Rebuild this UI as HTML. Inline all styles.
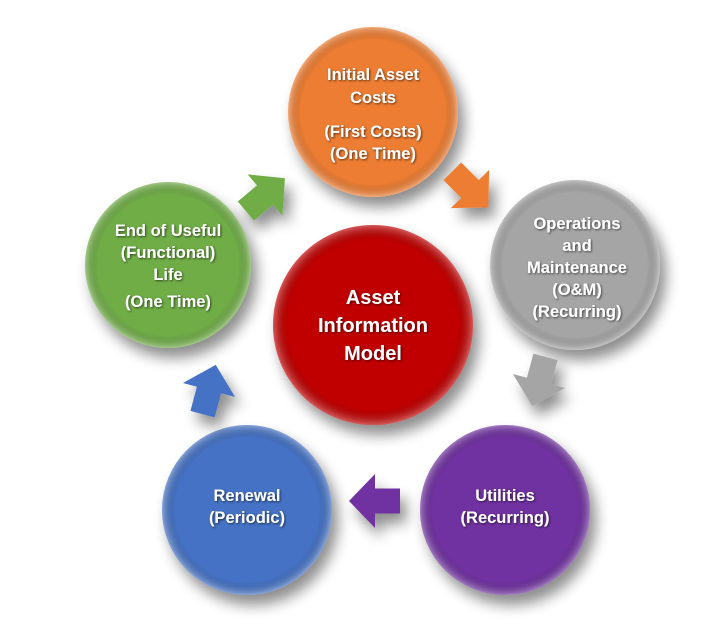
<!DOCTYPE html>
<html><head><style>
html,body{margin:0;padding:0;background:#fff;}
svg text{font-family:"Liberation Sans",sans-serif;font-weight:bold;fill:#fff;text-anchor:middle;}
</style></head><body>
<svg width="724" height="634" viewBox="0 0 724 634" xmlns="http://www.w3.org/2000/svg">
<defs>
<filter id="sh" x="-30%" y="-30%" width="170%" height="170%">
<feGaussianBlur in="SourceAlpha" stdDeviation="7"/><feOffset dx="6" dy="10"/>
<feComponentTransfer><feFuncA type="linear" slope="0.45"/></feComponentTransfer>
<feMerge><feMergeNode/><feMergeNode in="SourceGraphic"/></feMerge></filter>
<filter id="ts"><feGaussianBlur in="SourceAlpha" stdDeviation="1"/><feOffset dx="1" dy="1"/>
<feComponentTransfer><feFuncA type="linear" slope="0.6"/></feComponentTransfer>
<feMerge><feMergeNode/><feMergeNode in="SourceGraphic"/></feMerge></filter>
<radialGradient id="g1" cx="50%" cy="50%" r="50%"><stop offset="85%" stop-color="#000" stop-opacity="0"/><stop offset="100%" stop-color="#fff" stop-opacity="0.35"/></radialGradient>
<polygon id="arr" points="-25,-12.5 0,-12.5 0,-27 26,0 0,27 0,12.5 -25,12.5"/>
</defs>
<g filter="url(#sh)">
<circle cx="373" cy="112" r="85" fill="#ed7d31"/>
<circle cx="575" cy="265" r="85" fill="#a5a5a5"/>
<circle cx="505" cy="510" r="85" fill="#7030a0"/>
<circle cx="247" cy="510" r="85" fill="#4472c4"/>
<circle cx="168" cy="265" r="83" fill="#70ad47"/>
<circle cx="373" cy="325" r="100" fill="#c00000"/>
</g>
<circle cx="373" cy="112" r="85" fill="url(#g1)"/>
<circle cx="575" cy="265" r="85" fill="url(#g1)"/>
<circle cx="505" cy="510" r="85" fill="url(#g1)"/>
<circle cx="247" cy="510" r="85" fill="url(#g1)"/>
<circle cx="168" cy="265" r="83" fill="url(#g1)"/>
<circle cx="373" cy="325" r="100" fill="url(#g1)"/>
<g filter="url(#sh)">
<use href="#arr" fill="#ed7d31" transform="translate(470,189) rotate(45)"/>
<use href="#arr" fill="#a5a5a5" transform="translate(539,381) rotate(105)"/>
<use href="#arr" fill="#7030a0" transform="translate(375,501) rotate(180)"/>
<use href="#arr" fill="#4472c4" transform="translate(209,390) rotate(-75)"/>
<use href="#arr" fill="#70ad47" transform="translate(265,195) rotate(-40)"/>
</g>
<g filter="url(#ts)" font-size="16.5">
<text x="373" y="80">Initial Asset</text>
<text x="373" y="103">Costs</text>
<text x="373" y="137">(First Costs)</text>
<text x="373" y="159">(One Time)</text>
<text x="577" y="229">Operations</text>
<text x="577" y="251">and</text>
<text x="577" y="273">Maintenance</text>
<text x="577" y="295">(O&amp;M)</text>
<text x="577" y="317">(Recurring)</text>
<text x="505" y="501">Utilities</text>
<text x="505" y="523">(Recurring)</text>
<text x="247" y="501">Renewal</text>
<text x="247" y="523">(Periodic)</text>
<text x="168" y="236">End of Useful</text>
<text x="168" y="258">(Functional)</text>
<text x="168" y="280">Life</text>
<text x="168" y="307">(One Time)</text>
<text x="373" y="304" font-size="20">Asset</text>
<text x="373" y="332" font-size="20">Information</text>
<text x="373" y="360" font-size="20">Model</text>
</g>
</svg>
</body></html>
